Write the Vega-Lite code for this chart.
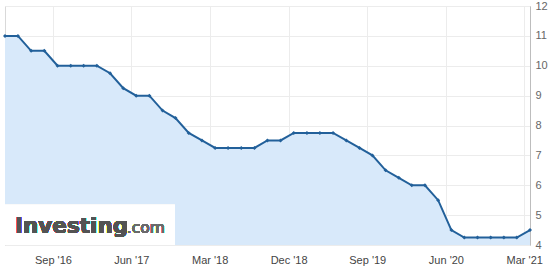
{
  "$schema": "https://vega.github.io/schema/vega-lite/v6.json",
  "autosize": {"type": "none"},
  "width": 525,
  "height": 239,
  "padding": {"left": 5, "top": 6, "right": 20, "bottom": 27},
  "background": "#ffffff",
  "config": {
    "view": {"stroke": "#d9d9d9", "strokeWidth": 1},
    "font": "Liberation Sans"
  },
  "data": {
    "values": [
      {"date": "2016-03-18", "rate": 11},
      {"date": "2016-05-02", "rate": 11},
      {"date": "2016-06-17", "rate": 10.5},
      {"date": "2016-08-02", "rate": 10.5},
      {"date": "2016-09-17", "rate": 10},
      {"date": "2016-11-02", "rate": 10},
      {"date": "2016-12-17", "rate": 10},
      {"date": "2017-02-01", "rate": 10},
      {"date": "2017-03-19", "rate": 9.75},
      {"date": "2017-05-04", "rate": 9.25},
      {"date": "2017-06-18", "rate": 9},
      {"date": "2017-08-03", "rate": 9},
      {"date": "2017-09-18", "rate": 8.5},
      {"date": "2017-11-02", "rate": 8.25},
      {"date": "2017-12-18", "rate": 7.75},
      {"date": "2018-02-02", "rate": 7.5},
      {"date": "2018-03-20", "rate": 7.25},
      {"date": "2018-05-04", "rate": 7.25},
      {"date": "2018-06-19", "rate": 7.25},
      {"date": "2018-08-04", "rate": 7.25},
      {"date": "2018-09-18", "rate": 7.5},
      {"date": "2018-11-03", "rate": 7.5},
      {"date": "2018-12-19", "rate": 7.75},
      {"date": "2019-02-03", "rate": 7.75},
      {"date": "2019-03-20", "rate": 7.75},
      {"date": "2019-05-05", "rate": 7.75},
      {"date": "2019-06-20", "rate": 7.5},
      {"date": "2019-08-05", "rate": 7.25},
      {"date": "2019-09-19", "rate": 7},
      {"date": "2019-11-04", "rate": 6.5},
      {"date": "2019-12-20", "rate": 6.25},
      {"date": "2020-02-03", "rate": 6},
      {"date": "2020-03-20", "rate": 6},
      {"date": "2020-05-05", "rate": 5.5},
      {"date": "2020-06-20", "rate": 4.5},
      {"date": "2020-08-04", "rate": 4.25},
      {"date": "2020-09-19", "rate": 4.25},
      {"date": "2020-11-04", "rate": 4.25},
      {"date": "2020-12-20", "rate": 4.25},
      {"date": "2021-02-03", "rate": 4.25},
      {"date": "2021-03-21", "rate": 4.5}
    ]
  },
  "encoding": {
    "x": {
      "field": "date",
      "type": "temporal",
      "scale": {"domain": ["2016-03-18", "2021-03-21"], "nice": false},
      "axis": {
        "title": null,
        "format": "%b '%y",
        "values": ["2016-09-01", "2017-06-01", "2018-03-01", "2018-12-01", "2019-09-01", "2020-06-01", "2021-03-01"],
        "ticks": false,
        "domain": false,
        "grid": true,
        "gridColor": "#ececec",
        "labelColor": "#444444",
        "labelFontSize": 11,
        "labelPadding": 9,
        "labelFlush": false
      }
    },
    "y": {
      "field": "rate",
      "type": "quantitative",
      "scale": {"domain": [4, 12], "zero": false, "nice": false},
      "axis": {
        "title": null,
        "orient": "right",
        "values": [4, 5, 6, 7, 8, 9, 10, 11, 12],
        "ticks": false,
        "domain": true,
        "domainColor": "#bdbdbd",
        "grid": true,
        "gridColor": "#ececec",
        "labelColor": "#666666",
        "labelFontSize": 11,
        "labelPadding": 5
      }
    }
  },
  "layer": [
    {
      "mark": {"type": "area", "color": "#d8e9fa", "opacity": 1},
      "encoding": {"y2": {"datum": 4}}
    },
    {
      "mark": {"type": "rect", "fill": "#ffffff", "opacity": 0.6},
      "encoding": {
        "x": {"datum": {"year": 2016, "month": 3, "date": 18}},
        "x2": {"datum": {"year": 2017, "month": 10, "date": 31}},
        "y": {"datum": 5.35},
        "y2": {"datum": 4}
      }
    },
    {
      "mark": {"type": "text", "text": "Investing", "font": "DejaVu Sans", "fontWeight": "bold", "fontSize": 21.5, "color": "#535353", "align": "left", "baseline": "alphabetic"},
      "encoding": {
        "x": {"datum": {"year": 2016, "month": 4, "date": 22}},
        "y": {"datum": 4.41}
      }
    },
    {
      "mark": {"type": "text", "text": ".com", "font": "DejaVu Sans", "fontSize": 15.5, "color": "#6a6a6a", "align": "right", "baseline": "alphabetic"},
      "encoding": {
        "x": {"datum": {"year": 2017, "month": 9, "date": 26}},
        "y": {"datum": 4.41}
      }
    },
    {
      "mark": {"type": "line", "color": "#22609a", "strokeWidth": 2, "point": {"filled": true, "size": 16, "color": "#22609a", "shape": "diamond"}}
    }
  ]
}
